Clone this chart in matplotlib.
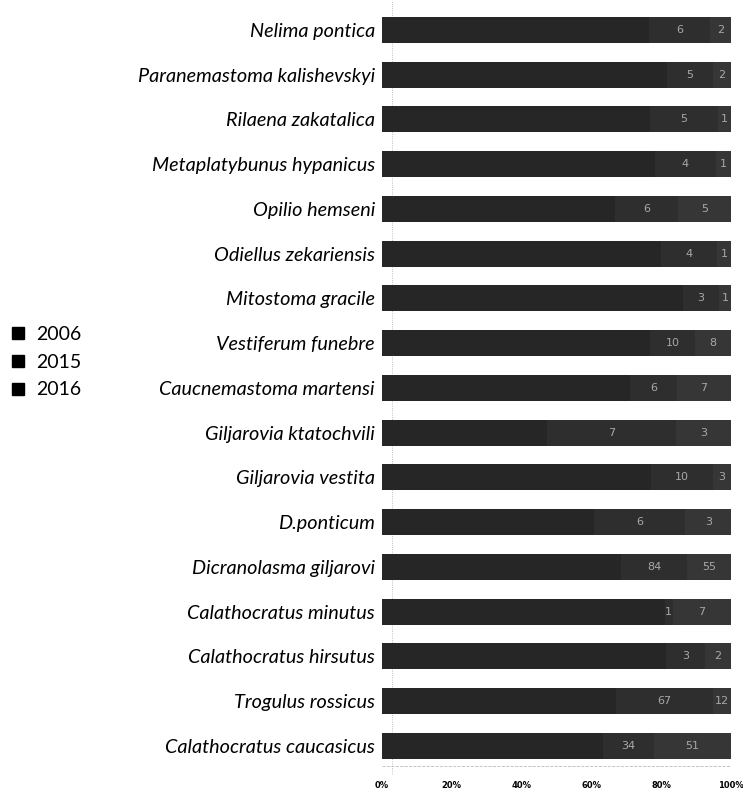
#!/usr/bin/env python

import matplotlib
matplotlib.use('Agg')
import matplotlib.pyplot as plt
import numpy as np
from matplotlib.lines import Line2D

species = [
    'Nelima pontica', 'Paranemastoma kalishevskyi', 'Rilaena zakatalica',
    'Metaplatybunus hypanicus', 'Opilio hemseni', 'Odiellus zekariensis',
    'Mitostoma gracile', 'Vestiferum funebre', 'Caucnemastoma martensi',
    'Giljarovia ktatochvili', 'Giljarovia vestita', 'D.ponticum',
    'Dicranolasma giljarovi', 'Calathocratus minutus',
    'Calathocratus hirsutus', 'Trogulus rossicus', 'Calathocratus caucasicus',
]
years = ['2006', '2015', '2016']
v2006 = [26, 31, 20, 18, 22, 20, 25, 60, 32, 9, 44, 14, 302, 34, 22, 160, 147]
v2015 = [6, 5, 5, 4, 6, 4, 3, 10, 6, 7, 10, 6, 84, 1, 3, 67, 34]
v2016 = [2, 2, 1, 1, 5, 1, 1, 8, 7, 3, 3, 3, 55, 7, 2, 12, 51]
tick_labels = ['0%', '20%', '40%', '60%', '80%', '100%']

seg_colors = ['#262626', '#2e2e2e', '#363636']


def plot():
    fig = plt.figure(figsize=(7.43, 7.91), dpi=100)
    ax = fig.add_axes([382 / 743, 16 / 791, 349 / 743, 775 / 791])

    data = np.array([v2006, v2015, v2016], dtype=float)
    share = data / data.sum(axis=0)
    y = np.arange(len(species))
    left = np.zeros(len(species))
    for i, yr in enumerate(years):
        ax.barh(y, share[i], left=left, height=0.58, color=seg_colors[i],
                edgecolor='none', label=yr, zorder=2)
        if i > 0:
            for k in range(len(species)):
                ax.text(left[k] + share[i][k] / 2, y[k], str(int(data[i][k])),
                        ha='center', va='center', fontsize=8,
                        color='#a8a8a8', zorder=3)
        left += share[i]

    # 3d-ish back wall and floor lines
    ax.axvline(0.03, color='#aaaaaa', lw=0.6, ls=':', zorder=0)
    ax.axhline(16.45, color='#bbbbbb', lw=0.6, ls='--', zorder=0)

    ax.set_ylim(16.65, -0.67)
    ax.set_xlim(0, 1)
    ax.set_yticks(y)
    ax.set_yticklabels(species, fontstyle='italic', fontsize=14.3,
                       family='Lato')
    ax.set_xticks(np.linspace(0, 1, len(tick_labels)))
    ax.set_xticklabels(tick_labels, fontsize=6, fontweight='bold')
    ax.tick_params(length=0, pad=4)
    ax.tick_params(axis='y', pad=5)
    for s in ax.spines.values():
        s.set_visible(False)

    handles = [Line2D([], [], marker='s', ls='none', color='black',
                      markersize=8) for _ in years]
    fig.legend(handles, years, loc='center left',
               bbox_to_anchor=(-0.012, 0.542), frameon=False,
               handletextpad=0.4, labelspacing=0.55, handlelength=1.0,
               prop={'family': 'Lato', 'size': 14})

    fig.savefig('out.png', dpi=100)


def main():
    plot()


if __name__ == '__main__':
    main()
